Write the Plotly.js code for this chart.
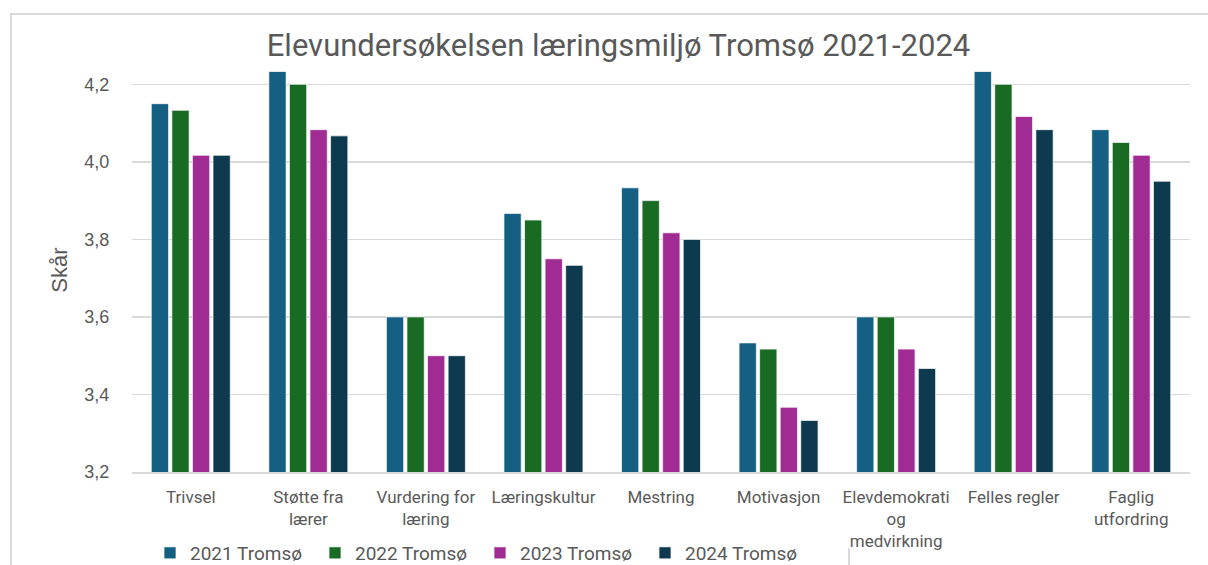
<!DOCTYPE html>
<html>
<head>
<meta charset="utf-8">
<script src="https://cdn.plot.ly/plotly-3.0.1.min.js"></script>
<style>
  html, body { margin: 0; padding: 0; background: #ffffff; overflow: hidden; }
  #wrap { position: relative; width: 1208px; height: 565px; }
  #frame { position: absolute; left: 10px; top: 13px; width: 1220px; height: 600px;
           border: 2px solid #D9D9D9; box-sizing: border-box; }
  #tick { position: absolute; left: 848px; top: 548px; width: 2px; height: 18px; background: #D9D9D9; }
  #chart { position: absolute; left: 0; top: 0; width: 1208px; height: 565px; }
</style>
</head>
<body>
<div id="wrap">
  <div id="frame"></div>
  <div id="tick"></div>
  <div id="chart"></div>
</div>
<script>
const categories = ["Trivsel", "Støtte fra<br>lærer", "Vurdering for<br>læring", "Læringskultur", "Mestring",
                    "Motivasjon", "Elevdemokrati<br>og<br>medvirkning", "Felles regler", "Faglig<br>utfordring"];
const seriesNames = ["2021 Tromsø", "2022 Tromsø", "2023 Tromsø", "2024 Tromsø"];
const values2021 = [4.150, 4.233, 3.600, 3.867, 3.933, 3.533, 3.600, 4.233, 4.083];
const values2022 = [4.133, 4.200, 3.600, 3.850, 3.900, 3.517, 3.600, 4.200, 4.050];
const values2023 = [4.017, 4.083, 3.500, 3.750, 3.817, 3.367, 3.517, 4.117, 4.017];
const values2024 = [4.017, 4.067, 3.500, 3.733, 3.800, 3.333, 3.467, 4.083, 3.950];
const colors = ["#156082", "#196B24", "#A02B93", "#0E3A50"];
const yTickVals = [3.2, 3.4, 3.6, 3.8, 4.0, 4.2];

const allValues = [values2021, values2022, values2023, values2024];
const cond = "Roboto, sans-serif";
const gray = "#595959";

const traces = allValues.map((vals, i) => ({
  type: "bar",
  name: seriesNames[i],
  x: categories,
  y: vals,
  marker: { color: colors[i], line: { color: "rgba(255,255,255,0.7)", width: 1 } },
  hoverinfo: "x+y+name"
}));

const plotTop = 68, plotBottom = 472;
const yMin = 3.2;
const pxPerUnit = (472 - 84.3) / 1.0;
const yMax = yMin + (plotBottom - plotTop) / pxPerUnit;

const layout = {
  width: 1208,
  height: 565,
  paper_bgcolor: "rgba(0,0,0,0)",
  plot_bgcolor: "rgba(0,0,0,0)",
  separators: ", ",
  margin: { l: 132, r: 18, t: plotTop, b: 565 - plotBottom, pad: 0, autoexpand: false },
  title: {
    text: "Elevundersøkelsen læringsmiljø Tromsø 2021-2024",
    font: { family: cond, size: 31, color: gray },
    x: 0.512, xref: "container", xanchor: "center",
    y: 1 - 45 / 565, yref: "container", yanchor: "middle"
  },
  barmode: "group",
  bargap: 0.30,
  bargroupgap: 0.16,
  xaxis: {
    type: "category",
    tickfont: { family: cond, size: 17, color: gray },
    showline: true, linecolor: "#D9D9D9", linewidth: 1.5,
    ticks: "", showgrid: false, fixedrange: true,
    ticklabelstandoff: 9
  },
  yaxis: {
    range: [yMin, yMax],
    tickvals: yTickVals,
    tickformat: ".1f",
    tickfont: { family: "Liberation Sans, Arial, sans-serif", size: 18, color: gray },
    gridcolor: "#D9D9D9", gridwidth: 1.5,
    zeroline: false, showline: false,
    ticks: "outside", ticklen: 0, tickcolor: "rgba(0,0,0,0)",
    ticklabelstandoff: 18,
    title: { text: "Skår", font: { family: "Liberation Sans, Arial, sans-serif", size: 22, color: gray }, standoff: 10 },
    fixedrange: true
  },
  showlegend: true,
  legend: {
    orientation: "h",
    xref: "container", yref: "container",
    x: 150 / 1208, xanchor: "left",
    y: 1 - 534 / 565, yanchor: "top",
    font: { family: cond, size: 19, color: gray },
    itemwidth: 30,
    entrywidth: 120,
    traceorder: "normal",
    bgcolor: "rgba(0,0,0,0)"
  }
};

Plotly.newPlot("chart", traces, layout, { displayModeBar: false, staticPlot: true });
</script>
</body>
</html>
